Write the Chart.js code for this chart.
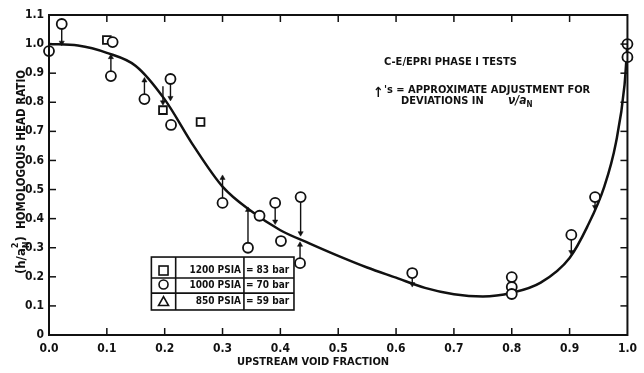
<!DOCTYPE html>
<html><head><meta charset="utf-8">
<script src="https://cdn.jsdelivr.net/npm/chart.js@4/dist/chart.umd.min.js"></script>
<style>html,body{margin:0;padding:0;background:#fff}canvas{display:block}</style>
</head><body>
<canvas id="c" width="644" height="373"></canvas>
<script>
// ---- data ----
const xTickValues = [0.0,0.1,0.2,0.3,0.4,0.5,0.6,0.7,0.8,0.9,1.0];
const yTickValues = [0,0.1,0.2,0.3,0.4,0.5,0.6,0.7,0.8,0.9,1.0,1.1];

const curveX = [0.00,0.05,0.10,0.15,0.20,0.25,0.30,0.35,0.40,0.45,0.50,0.55,0.60,0.65,0.70,0.75,0.80,0.85,0.90,0.93,0.96,0.98,0.995,1.00];
const curveY = [1.00,0.995,0.97,0.925,0.81,0.65,0.51,0.425,0.36,0.315,0.272,0.232,0.197,0.162,0.14,0.132,0.145,0.18,0.265,0.37,0.51,0.66,0.86,1.00];

// 1000 PSIA (circles)
const circleX = [0.0,0.022,0.11,0.107,0.165,0.21,0.211,0.30,0.344,0.364,0.391,0.401,0.435,0.434,0.628,0.80,0.80,0.80,0.903,0.944,1.0,1.0];
const circleY = [0.976,1.069,1.007,0.89,0.811,0.88,0.722,0.454,0.30,0.41,0.454,0.323,0.474,0.247,0.213,0.199,0.165,0.141,0.344,0.474,1.0,0.955];

// 1200 PSIA (squares)
const squareX = [0.100,0.197,0.262];
const squareY = [1.014,0.773,0.732];

// approximate adjustment arrows
const arrowX    = [0.022,0.107,0.165,0.21,0.197,0.30,0.344,0.391,0.435,0.434,0.628,0.903,0.944];
const arrowFrom = [1.069,0.89,0.811,0.88,0.855,0.454,0.30,0.454,0.474,0.247,0.213,0.344,0.474];
const arrowTo   = [1.005,0.955,0.875,0.815,0.80,0.54,0.43,0.39,0.35,0.31,0.175,0.285,0.44];

const legendRows = [
  {symbol:'square',  label:'1200 PSIA', bar:'= 83 bar'},
  {symbol:'circle',  label:'1000 PSIA', bar:'= 70 bar'},
  {symbol:'triangle',label:'850 PSIA',  bar:'= 59 bar'}
];

// ---- chart ----
const FONT = '"Liberation Sans Narrow","DejaVu Sans Condensed","Arial Narrow",sans-serif';
const INK = '#111';

const datasets = [];
datasets.push({
  type:'scatter', label:'1000 PSIA', order:0, clip:false,
  data: circleX.map((x,i)=>({x, y:circleY[i]})),
  pointStyle:'circle', pointRadius:5, pointBorderWidth:1.8,
  pointBorderColor:INK, pointBackgroundColor:'#fff'
});
datasets.push({
  type:'scatter', label:'1200 PSIA', order:0, clip:false,
  data: squareX.map((x,i)=>({x, y:squareY[i]})),
  pointStyle:'rect', pointRadius:5.5, pointBorderWidth:1.8,
  pointBorderColor:INK, pointBackgroundColor:'#fff'
});
arrowX.forEach((x,i)=>{
  const down = arrowTo[i] < arrowFrom[i];
  datasets.push({
    type:'line', order:1, clip:false,
    data:[{x, y:arrowFrom[i]},{x, y:arrowTo[i]}],
    borderColor:INK, borderWidth:1.4,
    pointStyle:'triangle', pointRadius:[0,3], pointRotation: down?180:0,
    pointBackgroundColor:INK, pointBorderColor:INK, pointBorderWidth:0.5
  });
});
datasets.push({
  type:'line', label:'curve', order:2, clip:false,
  data: curveX.map((x,i)=>({x, y:curveY[i]})),
  borderColor:INK, borderWidth:2.5, pointRadius:0,
  cubicInterpolationMode:'monotone', fill:false
});

const decor = {
  id:'decor',
  afterDraw(chart){
    const {ctx, chartArea:a, scales:{x, y}} = chart;
    ctx.save();
    ctx.strokeStyle = INK; ctx.fillStyle = INK;
    // frame
    ctx.lineWidth = 2;
    ctx.strokeRect(a.left, a.top, a.right-a.left, a.bottom-a.top);
    // inward ticks
    ctx.lineWidth = 1.5;
    xTickValues.slice(1,-1).forEach(v=>{
      const p = x.getPixelForValue(v);
      ctx.beginPath(); ctx.moveTo(p,a.bottom); ctx.lineTo(p,a.bottom-7); ctx.stroke();
      ctx.beginPath(); ctx.moveTo(p,a.top); ctx.lineTo(p,a.top+7); ctx.stroke();
    });
    yTickValues.slice(1,-1).forEach(v=>{
      const p = y.getPixelForValue(v);
      ctx.beginPath(); ctx.moveTo(a.left,p); ctx.lineTo(a.left+7,p); ctx.stroke();
      ctx.beginPath(); ctx.moveTo(a.right,p); ctx.lineTo(a.right-7,p); ctx.stroke();
    });

    // x title
    ctx.font = 'bold 11px '+FONT;
    ctx.textAlign='center'; ctx.textBaseline='middle';
    ctx.fillText('UPSTREAM VOID FRACTION', 313, 362);

    // y title (rotated)
    ctx.save();
    ctx.translate(22, 172);
    ctx.rotate(-Math.PI/2);
    ctx.textBaseline='middle'; ctx.textAlign='left';
    const big = 'bold 13px '+FONT, small = 'bold 9px '+FONT, tf = 'bold 11.5px '+FONT;
    const parts = [
      {t:'(h/a', f:big, dy:0},
      {t:'2', f:small, dy:-6, stack:true},
      {t:'N', f:small, dy:5},
      {t:')', f:big, dy:0},
      {t:'  HOMOLOGOUS HEAD RATIO', f:tf, dy:0}
    ];
    let total = 0;
    parts.forEach(p=>{ ctx.font=p.f; p.w = p.stack?0:ctx.measureText(p.t).width; total+=p.w; });
    let cx = -total/2;
    parts.forEach(p=>{ ctx.font=p.f; ctx.fillText(p.t, cx, p.dy); cx+=p.w; });
    ctx.restore();

    // annotations
    ctx.textAlign='left'; ctx.textBaseline='middle';
    ctx.font = 'bold 11px '+FONT;
    ctx.fillText('C-E/EPRI PHASE I TESTS', 384, 62);
    ctx.font = 'bold 14px '+FONT;
    ctx.fillText('\u2191', 373, 93);
    ctx.font = 'bold 11px '+FONT;
    ctx.fillText("'s = APPROXIMATE ADJUSTMENT FOR", 384, 90);
    ctx.fillText('DEVIATIONS IN', 401, 101);
    ctx.font = 'italic bold 12px '+FONT;
    ctx.fillText('\u03BD/a', 508, 101);
    const wva = ctx.measureText('\u03BD/a').width;
    ctx.font = 'bold 8px '+FONT;
    ctx.fillText('N', 508+wva, 105);

    // legend table
    const L = x.getPixelForValue(0.177), C1 = x.getPixelForValue(0.219),
          C2 = x.getPixelForValue(0.337), R = x.getPixelForValue(0.4235);
    const T = y.getPixelForValue(0.268), D1 = y.getPixelForValue(0.196),
          D2 = y.getPixelForValue(0.144), B = y.getPixelForValue(0.086);
    ctx.fillStyle='#fff';
    ctx.fillRect(L,T,R-L,B-T);
    ctx.fillStyle=INK;
    ctx.lineWidth=1.6;
    ctx.strokeRect(L,T,R-L,B-T);
    ctx.beginPath();
    ctx.moveTo(C1,T); ctx.lineTo(C1,B);
    ctx.moveTo(C2,T); ctx.lineTo(C2,B);
    ctx.moveTo(L,D1); ctx.lineTo(R,D1);
    ctx.moveTo(L,D2); ctx.lineTo(R,D2);
    ctx.stroke();
    const rowsY = [ (T+D1)/2+3, (D1+D2)/2, (D2+B)/2 ];
    ctx.font = 'bold 10px '+FONT;
    legendRows.forEach((r,i)=>{
      const cy = rowsY[i], sx = (L+C1)/2;
      ctx.lineWidth=1.6;
      if (r.symbol==='square') { ctx.strokeRect(sx-4.5, cy-4.5, 9, 9); }
      else if (r.symbol==='circle') { ctx.beginPath(); ctx.arc(sx, cy-1, 4.5, 0, Math.PI*2); ctx.stroke(); }
      else { ctx.beginPath(); ctx.moveTo(sx, cy-5); ctx.lineTo(sx+5, cy+4); ctx.lineTo(sx-5, cy+4); ctx.closePath(); ctx.stroke(); }
      ctx.textAlign='right';
      ctx.fillText(r.label, C2-3, cy);
      ctx.textAlign='left';
      ctx.fillText(r.bar, C2+2, cy);
    });
    ctx.restore();
  }
};

new Chart(document.getElementById('c'), {
  data:{ datasets },
  options:{
    responsive:false, animation:false, events:[],
    layout:{ padding:{ top:15, right:6, left:0, bottom:0 } },
    plugins:{ legend:{display:false}, tooltip:{enabled:false} },
    scales:{
      x:{
        type:'linear', min:0, max:1,
        grid:{ display:false, drawTicks:false }, border:{ display:false },
        afterFit(s){ s.height = 38; },
        afterBuildTicks(s){ s.ticks = xTickValues.map(v=>({value:v})); },
        ticks:{ padding:7, maxRotation:0, autoSkip:false, color:INK,
          font:{ family:FONT, size:12, weight:'bold' },
          callback:v=>Number(v).toFixed(1) }
      },
      y:{
        type:'linear', min:0, max:1.1,
        grid:{ display:false, drawTicks:false }, border:{ display:false },
        afterFit(s){ s.width = 49; },
        afterBuildTicks(s){ s.ticks = yTickValues.map(v=>({value:v})); },
        ticks:{ padding:5, autoSkip:false, color:INK,
          font:{ family:FONT, size:12, weight:'bold' },
          callback:v=> v===0 ? '0' : Number(v).toFixed(1) }
      }
    }
  },
  plugins:[decor]
});
</script>
</body></html>
